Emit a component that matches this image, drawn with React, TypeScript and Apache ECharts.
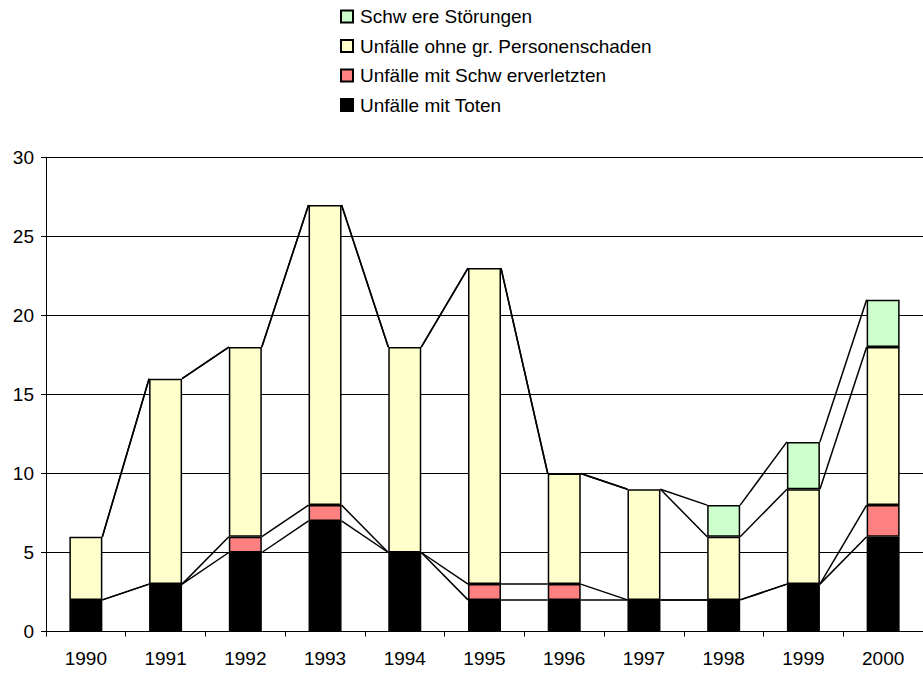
import React, { useEffect, useRef } from "react";
import * as echarts from "echarts";

const years = ["1990", "1991", "1992", "1993", "1994", "1995", "1996", "1997", "1998", "1999", "2000"];
const toten = [2, 3, 5, 7, 5, 2, 2, 2, 2, 3, 6];
const schwerverletzte = [0, 0, 1, 1, 0, 1, 1, 0, 0, 0, 2];
const ohnePersonenschaden = [4, 13, 12, 19, 13, 20, 7, 7, 4, 6, 10];
const schwereStoerungen = [0, 0, 0, 0, 0, 0, 0, 0, 2, 3, 3];

const names = [
  "Unfälle mit Toten",
  "Unfälle mit Schw erverletzten",
  "Unfälle ohne gr. Personenschaden",
  "Schw ere Störungen",
];
const colors = ["#000000", "#FF8080", "#FFFFCC", "#CCFFCC"];
const FONT = "'Liberation Sans', Arial, sans-serif";
const BAR_W = 33;

export default function App() {
  const ref = useRef<HTMLDivElement>(null);
  useEffect(() => {
    if (!ref.current) return;
    const chart = echarts.init(ref.current, null, { renderer: "svg" });
    const seriesVals = [toten, schwerverletzte, ohnePersonenschaden, schwereStoerungen];
    const cum: number[][] = [];
    seriesVals.forEach((vals, k) => {
      cum.push(vals.map((v, i) => (k === 0 ? v : cum[k - 1][i] + v)));
    });
    const lineData: number[][] = [];
    cum.forEach((level) => {
      for (let i = 0; i < years.length - 1; i++) {
        lineData.push([i, i + 1, level[i], level[i + 1]]);
      }
    });

    const barSeries = seriesVals.map((vals, k) => ({
      name: names[k],
      type: "bar",
      stack: "total",
      barWidth: BAR_W,
      data: vals.map((v) => (v === 0 ? "-" : v)),
      itemStyle: { color: colors[k], borderColor: "#000", borderWidth: 1.5 },
      emphasis: { disabled: true },
    }));

    chart.setOption({
      animation: false,
      textStyle: { fontFamily: FONT, color: "#000" },
      legend: {
        orient: "vertical",
        left: 340,
        top: 7,
        padding: 0,
        itemWidth: 12,
        itemHeight: 12,
        itemGap: 10.5,
        icon: "rect",
        data: [names[3], names[2], names[1], names[0]],
        textStyle: { fontFamily: FONT, fontSize: 19, color: "#000", lineHeight: 19, padding: [0, 0, 0, 2] },
        selectedMode: false,
      },
      grid: { left: 46, right: -8.5, top: 157.5, bottom: 41.5 },
      xAxis: {
        type: "category",
        data: years,
        axisLine: { lineStyle: { color: "#000", width: 1 } },
        axisTick: { show: true, length: 5, lineStyle: { color: "#000" } },
        axisLabel: { interval: 0, fontFamily: FONT, fontSize: 19, color: "#000", margin: 17 },
      },
      yAxis: {
        type: "value",
        min: 0,
        max: 30,
        interval: 5,
        axisLine: { show: true, lineStyle: { color: "#000", width: 1 } },
        axisTick: { show: true, length: 5, lineStyle: { color: "#000" } },
        axisLabel: { fontFamily: FONT, fontSize: 19, color: "#000", margin: 12 },
        splitLine: { show: true, lineStyle: { color: "#000", width: 1 } },
      },
      series: [
        ...barSeries,
        {
          type: "custom",
          name: "serieslines",
          silent: true,
          z: 5,
          data: lineData,
          encode: { x: 0, y: 2 },
          renderItem: (params: any, api: any) => {
            const p1 = api.coord([api.value(0), api.value(2)]);
            const p2 = api.coord([api.value(1), api.value(3)]);
            return {
              type: "line",
              shape: { x1: p1[0] + BAR_W / 2, y1: p1[1], x2: p2[0] - BAR_W / 2, y2: p2[1] },
              style: { stroke: "#000", lineWidth: 1.5 },
            };
          },
        },
      ],
    });
    return () => chart.dispose();
  }, []);
  return <div ref={ref} style={{ position: "absolute", left: 0, top: 0, width: 923, height: 673 }} />;
}
